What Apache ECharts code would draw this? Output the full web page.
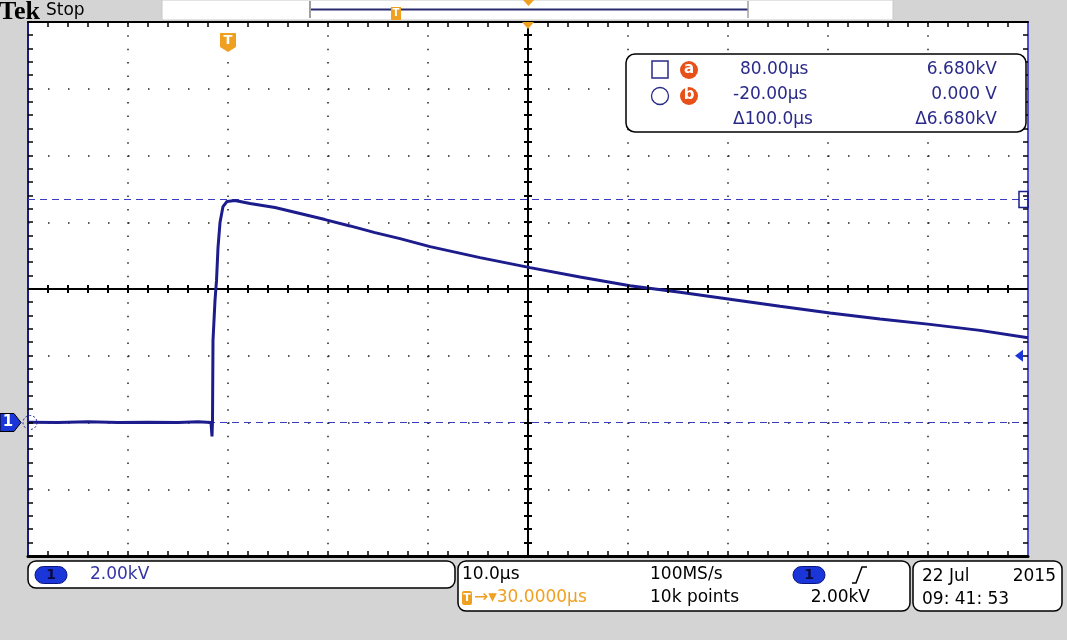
<!DOCTYPE html>
<html><head><meta charset="utf-8">
<script src="https://cdn.jsdelivr.net/npm/echarts@6/dist/echarts.min.js"></script>
<style>html,body{margin:0;padding:0;background:#d4d4d4;}#c{width:1067px;height:640px;}</style>
</head><body><div id="c"></div>
<script>
// ---- data (time in µs, voltage in kV) ----
const TIME_US = [-20,-17,-14,-11,-8,-5,-3,-1.7,-1.6,-1.55,-1.5,-1.3,-1.15,-1.0,-0.8,-0.5,-0.1,0.7,2.2,4.7,7.2,9.7,12.2,14.7,17.2,20.2,25.2,30.2,35.2,40.2,45.2,50.2,55.2,60.2,65.2,70.2,75.2,80];
const VOLTS_KV = [0.01,0.0,0.02,0.0,0.01,0.0,0.02,0.0,-0.42,0.06,2.46,3.66,4.25,5.24,5.99,6.47,6.62,6.65,6.56,6.44,6.26,6.08,5.89,5.69,5.51,5.27,4.94,4.64,4.36,4.10,3.90,3.69,3.48,3.28,3.10,2.94,2.76,2.54];
const X_RANGE = [-20, 80];          // 10 µs/div
const Y_RANGE = [-4, 12];           // 2 kV/div
const X_MINOR = 2, Y_MINOR = 0.4;   // graticule minor ticks
const X_CENTER = 30;                // horizontal centre (trigger offset)
const Y_CENTER = 4;
const CURSOR_A_KV = 6.68;
const CURSOR_B_KV = 0.0;
const TRIGGER_T = 0;
const TRIGGER_LEVEL_KV = 2.0;
const READOUT = {
  aTime: '80.00µs', bTime: '-20.00µs', dTime: 'Δ100.0µs',
  aVolt: '6.680kV', bVolt: '0.000 V', dVolt: 'Δ6.680kV'
};
const SCALE_TEXT = '2.00kV', TIMEBASE = '10.0µs', SAMPLE_RATE = '100MS/s', RECORD = '10k points';
const TRIG_POS = '30.0000µs', TRIG_LVL = '2.00kV', DATE = ['22 Jul', '2015'], CLOCK = '09: 41: 53';

const NAVY = '#1c1c8c', DASH = '#3b3bbf', ORANGE = '#f0a020', BLUE = '#1a35d8';
const FONT = '"DejaVu Sans", "Liberation Sans", sans-serif';

const chart = echarts.init(document.getElementById('c'), null, {renderer:'canvas'});

const L = 28, T = 22, W = 1000, H = 534;
const AL = (color,width)=>({show:true, onZero:false, lineStyle:{color:color, width:width}});

const option = {
  animation:false,
  backgroundColor:'#d4d4d4',
  grid:{left:L, top:T, width:W, height:H, show:true, backgroundColor:'#ffffff', borderWidth:0},
  xAxis:[
    {type:'value', position:'bottom', min:X_RANGE[0], max:X_RANGE[1], interval:10,
      axisLine:AL('#000',3), axisTick:{show:false}, axisLabel:{show:false},
      splitLine:{show:true, lineStyle:{color:'#222', width:1.5, type:[1.5,11.85]}}},
    {type:'value', position:'top', min:X_RANGE[0], max:X_RANGE[1], interval:10,
      axisLine:AL('#000',2), axisTick:{show:false}, axisLabel:{show:false}, splitLine:{show:false}}
  ],
  yAxis:[
    {type:'value', position:'left', min:Y_RANGE[0], max:Y_RANGE[1], interval:2,
      axisLine:AL('#1a1a80',2), axisTick:{show:false}, axisLabel:{show:false},
      splitLine:{show:true, lineStyle:{color:'#222', width:1.5, type:[1.5,18.5]}}},
    {type:'value', position:'right', min:Y_RANGE[0], max:Y_RANGE[1], interval:2,
      axisLine:AL('#5050d0',2), axisTick:{show:false}, axisLabel:{show:false}, splitLine:{show:false}}
  ],
  series:[{
    type:'line', xAxisIndex:0, yAxisIndex:0, showSymbol:false, symbol:'none',
    data: TIME_US.map((t,i)=>[t, VOLTS_KV[i]]),
    lineStyle:{color:NAVY, width:3}, z:5,
    markLine:{silent:true, symbol:'none', label:{show:false}, z:3,
      lineStyle:{color:DASH, type:[7,5], width:1},
      data:[
        {yAxis:Y_CENTER, lineStyle:{color:'#000', type:'solid', width:2}},
        {xAxis:X_CENTER, lineStyle:{color:'#000', type:'solid', width:2}},
        {yAxis:CURSOR_A_KV},{yAxis:CURSOR_B_KV}]}
  }]
};
chart.setOption(option);

const P = (t,v)=>chart.convertToPixel({xAxisIndex:0, yAxisIndex:0}, [t,v]);
const pTrig = P(TRIGGER_T, Y_RANGE[1]);
const pCenterTop = P(X_CENTER, Y_RANGE[1]);
const pA = P(X_RANGE[1], CURSOR_A_KV);
const pB = P(X_RANGE[0], CURSOR_B_KV);
const pLvl = P(X_RANGE[1], TRIGGER_LEVEL_KV);

const g = [];
// graticule minor ticks (positions from the axis scales)
function tick(x1,y1,x2,y2,w){ g.push({type:'line', z:60, silent:true, shape:{x1:x1,y1:y1,x2:x2,y2:y2}, style:{stroke:'#000', lineWidth:w||1.5}}); }
const nx = Math.round((X_RANGE[1]-X_RANGE[0])/X_MINOR), ny = Math.round((Y_RANGE[1]-Y_RANGE[0])/Y_MINOR);
for (let i=1;i<nx;i++){
  const t = X_RANGE[0]+i*X_MINOR;
  const top = P(t, Y_RANGE[1]), bot = P(t, Y_RANGE[0]), mid = P(t, Y_CENTER);
  const x = Math.round(top[0]);
  tick(x, top[1], x, top[1]+5);
  tick(x, bot[1]-5, x, bot[1]);
  tick(x, mid[1]-4, x, mid[1]+4, 2);
}
for (let j=1;j<ny;j++){
  const v = Y_RANGE[0]+j*Y_MINOR;
  const lft = P(X_RANGE[0], v), rgt = P(X_RANGE[1], v), mid = P(X_CENTER, v);
  const y = Math.round(lft[1]);
  tick(lft[0], y, lft[0]+5, y);
  tick(rgt[0]-5, y, rgt[0], y);
  tick(mid[0]-4, y, mid[0]+4, y, 2);
}

function txt(x,y,s,opt){
  return {type:'text', x:x, y:y, z:70, style:Object.assign({text:s, fill:'#000', font:'17px '+FONT, textVerticalAlign:'middle', textAlign:'left'}, opt||{})};
}
function box(x,y,w,h,r){
  return {type:'rect', z:65, shape:{x:x,y:y,width:w,height:h,r:r}, style:{fill:'#fff', stroke:'#000', lineWidth:1.5}};
}
function pill(cx,cy,w,h,label){
  return [{type:'rect', z:68, shape:{x:cx-w/2,y:cy-h/2,width:w,height:h,r:h/2}, style:{fill:BLUE, stroke:'#0a1680', lineWidth:1}},
          txt(cx,cy,label,{fill:'#0a0a40', font:'bold 14px '+FONT, textAlign:'center'})];
}
const shp = (o)=>Object.assign({z:68}, o);

// top bar
g.push(txt(-1,12,'Tek',{font:'bold 26px "Liberation Serif", "DejaVu Serif", serif', fill:'#000'}));
g.push(txt(46,11,'Stop',{font:'17px '+FONT, fill:'#000'}));
g.push({type:'rect', z:65, shape:{x:162,y:0,width:731,height:20}, style:{fill:'#fff', stroke:'#c8c8c8', lineWidth:1}});
g.push(shp({type:'line', shape:{x1:311,y1:9.5,x2:748,y2:9.5}, style:{stroke:'#2a2a70', lineWidth:2}}));
g.push(shp({type:'line', shape:{x1:310,y1:1,x2:310,y2:18}, style:{stroke:'#a0a0a0', lineWidth:2}}));
g.push(shp({type:'line', shape:{x1:748,y1:1,x2:748,y2:18}, style:{stroke:'#a0a0a0', lineWidth:1.5}}));
g.push(shp({type:'rect', shape:{x:391,y:7,width:10,height:13}, style:{fill:ORANGE}}));
g.push(txt(396,13.5,'T',{fill:'#fff', font:'bold 10px '+FONT, textAlign:'center'}));
g.push(shp({type:'polygon', shape:{points:[[523,0],[534,0],[528.5,6]]}, style:{fill:ORANGE}}));
// expansion-point marker at top of graticule
g.push(shp({type:'polygon', shape:{points:[[pCenterTop[0]-6,pCenterTop[1]],[pCenterTop[0]+6,pCenterTop[1]],[pCenterTop[0],pCenterTop[1]+7]]}, style:{fill:ORANGE}}));
// trigger marker
g.push(shp({type:'polygon', shape:{points:[[pTrig[0]-8,pTrig[1]+11],[pTrig[0]+8,pTrig[1]+11],[pTrig[0]+8,pTrig[1]+25],[pTrig[0],pTrig[1]+30],[pTrig[0]-8,pTrig[1]+25]]}, style:{fill:ORANGE}}));
g.push(txt(pTrig[0],pTrig[1]+19,'T',{fill:'#fff', font:'bold 13px '+FONT, textAlign:'center'}));
// ground-level tag on left
g.push(shp({type:'polygon', shape:{points:[[0,pB[1]-9],[14,pB[1]-9],[21,pB[1]],[14,pB[1]+9],[0,pB[1]+9]]}, style:{fill:BLUE, stroke:'#000', lineWidth:1}}));
g.push(txt(8,pB[1],'1',{fill:'#fff', font:'bold 15px '+FONT, textAlign:'center'}));
g.push(shp({type:'circle', shape:{cx:pB[0]+2,cy:pB[1],r:7}, style:{fill:'none', stroke:NAVY, lineWidth:1, lineDash:[2,2]}}));
// cursor a marker on right
g.push(shp({type:'rect', shape:{x:pA[0]-9,y:pA[1]-8,width:9,height:16}, style:{fill:'none', stroke:NAVY, lineWidth:1.5}}));
// trigger level arrow on right
g.push(shp({type:'polygon', shape:{points:[[pLvl[0]-13,pLvl[1]],[pLvl[0]-5,pLvl[1]-6],[pLvl[0]-5,pLvl[1]+6]]}, style:{fill:BLUE}}));

// cursor readout
const RC = '#2a2a8a';
g.push(box(626,54,400,78,9));
g.push(shp({type:'rect', shape:{x:652,y:61,width:16,height:17}, style:{fill:'none', stroke:RC, lineWidth:1.5}}));
g.push(shp({type:'circle', shape:{cx:660,cy:96,r:8.5}, style:{fill:'none', stroke:RC, lineWidth:1.3}}));
g.push(shp({type:'circle', shape:{cx:689,cy:70,r:9}, style:{fill:'#e8501a'}}));
g.push(txt(689,69,'a',{fill:'#fff', font:'bold 15px '+FONT, textAlign:'center'}));
g.push(shp({type:'circle', shape:{cx:689,cy:96,r:9}, style:{fill:'#e8501a'}}));
g.push(txt(689,95,'b',{fill:'#fff', font:'bold 15px '+FONT, textAlign:'center'}));
g.push(txt(740,70,READOUT.aTime,{fill:RC}));
g.push(txt(733,95,READOUT.bTime,{fill:RC}));
g.push(txt(733,120,READOUT.dTime,{fill:RC}));
g.push(txt(997,70,READOUT.aVolt,{fill:RC, textAlign:'right'}));
g.push(txt(997,95,READOUT.bVolt,{fill:RC, textAlign:'right'}));
g.push(txt(997,120,READOUT.dVolt,{fill:RC, textAlign:'right'}));

// bottom box 1
g.push(box(28,561,427,27,8));
pill(51,575,32,17,'1').forEach(e=>g.push(e));
g.push(txt(90,575,SCALE_TEXT,{fill:'#3535a5'}));
// bottom box 2
g.push(box(458,561,452,50,8));
g.push(txt(462,575,TIMEBASE));
g.push(shp({type:'rect', shape:{x:462,y:591,width:10,height:14,r:2}, style:{fill:ORANGE}}));
g.push(txt(467,598,'T',{fill:'#fff', font:'bold 11px '+FONT, textAlign:'center'}));
g.push(txt(474,598,'→▾'+TRIG_POS,{fill:ORANGE}));
g.push(txt(650,575,SAMPLE_RATE));
g.push(txt(650,598,RECORD));
pill(809,575,32,17,'1').forEach(e=>g.push(e));
g.push(shp({type:'polyline', shape:{points:[[852,583],[856,583],[862,567],[867,567]]}, style:{stroke:'#000', lineWidth:1.5, fill:'none'}}));
g.push(txt(870,598,TRIG_LVL,{textAlign:'right'}));
// bottom box 3
g.push(box(913,561,149,50,8));
g.push(txt(922,577,DATE[0]));
g.push(txt(1056,577,DATE[1],{textAlign:'right'}));
g.push(txt(922,600,CLOCK));

chart.setOption({graphic:g});
</script></body></html>
